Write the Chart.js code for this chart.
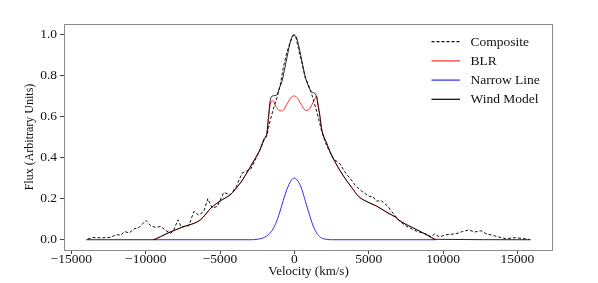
<!DOCTYPE html>
<html>
<head>
<meta charset="utf-8">
<script src="https://cdn.jsdelivr.net/npm/chart.js@4.4.1/dist/chart.umd.min.js"></script>
<style>
  body { margin: 0; background: #fff; }
  canvas { display: block; }
</style>
</head>
<body>
<canvas id="lineChart" width="598" height="283"></canvas>
<script>
const seriesNames = ["Composite", "BLR", "Narrow Line", "Wind Model"];
const xTickValues = [-15000, -10000, -5000, 0, 5000, 10000, 15000];
const yTickValues = [0.0, 0.2, 0.4, 0.6, 0.8, 1.0];

// Composite (observed) profile
const compVel = [-13900, -13560, -13000, -12330, -12000, -11670, -11440, -11110, -10780, -10440,
  -9990, -9660, -9320, -8990, -8650, -8320, -8100, -7830, -7600, -7100,
  -6760, -6430, -6090, -5820, -5530, -5190, -4750, -4300, -3900, -3520,
  -3200, -2960, -2630, -2300, -1960, -1850, -1630, -1400, -1180, -960,
  -740, -510, -290, -70, 90, 270, 500, 720, 940, 1160,
  1500, 1830, 2100, 2400, 2610, 3060, 3390, 3950, 4060, 4510,
  5070, 5290, 5520, 5850, 6290, 6630, 7080, 7520, 8190, 8860,
  9200, 9420, 9750, 10200, 10870, 11310, 11760, 12100, 12540, 12880,
  13550, 14220, 14880, 15330, 15780];
const compFlux = [0.003, 0.011, 0.009, 0.012, 0.025, 0.022, 0.040, 0.033, 0.053, 0.060,
  0.094, 0.068, 0.060, 0.065, 0.045, 0.030, 0.050, 0.097, 0.062, 0.068,
  0.138, 0.120, 0.138, 0.200, 0.154, 0.162, 0.230, 0.219, 0.260, 0.324,
  0.335, 0.340, 0.389, 0.440, 0.500, 0.505, 0.580, 0.640, 0.690, 0.750,
  0.840, 0.910, 0.960, 0.995, 0.990, 0.930, 0.865, 0.790, 0.755, 0.710,
  0.625, 0.530, 0.470, 0.425, 0.395, 0.370, 0.330, 0.280, 0.267, 0.237,
  0.210, 0.210, 0.188, 0.190, 0.162, 0.130, 0.090, 0.066, 0.042, 0.028,
  0.014, 0.028, 0.014, 0.024, 0.029, 0.040, 0.048, 0.037, 0.044, 0.030,
  0.017, 0.005, 0.010, 0.006, 0.002];

// BLR component
const blrVel = [-9500, -9000, -8500, -7500, -6300, -5600, -5000, -4300, -4000, -3500,
  -3000, -2600, -2300, -2050, -1850, -1740, -1600, -1450, -1250, -1050,
  -900, -700, -500, -250, -40, 200, 450, 650, 800, 1000,
  1200, 1400, 1500, 1600, 1720, 1830, 2170, 2390, 2800, 3300,
  3900, 4300, 4800, 5500, 6300, 6800, 7100, 8200, 9000, 9500];
const blrFlux = [0.000, 0.015, 0.033, 0.062, 0.098, 0.155, 0.188, 0.220, 0.243, 0.290,
  0.350, 0.400, 0.440, 0.485, 0.515, 0.590, 0.665, 0.676, 0.650, 0.630,
  0.627, 0.635, 0.660, 0.690, 0.700, 0.690, 0.660, 0.635, 0.629, 0.635,
  0.660, 0.690, 0.700, 0.655, 0.600, 0.540, 0.470, 0.430, 0.370, 0.310,
  0.250, 0.212, 0.188, 0.165, 0.130, 0.110, 0.092, 0.050, 0.020, 0.000];

// Narrow line component
const narrowVel = [-9500, -3000, -2500, -2000, -1750, -1500, -1250, -1000, -750, -500,
  -250, 0, 250, 500, 750, 1000, 1250, 1500, 1750, 2000,
  2500, 9500];
const narrowFlux = [0.000, 0.000, 0.002, 0.012, 0.025, 0.045, 0.080, 0.130, 0.190, 0.245,
  0.285, 0.300, 0.285, 0.245, 0.185, 0.125, 0.070, 0.032, 0.012, 0.004,
  0.000, 0.000];

// Wind model (BLR + narrow)
const windVel = [-14000, -9500, -9000, -8500, -7500, -6300, -5600, -5000, -4300, -4000,
  -3500, -3000, -2600, -2300, -2050, -1850, -1740, -1620, -1450, -1180,
  -1000, -840, -510, -240, -40, 160, 380, 600, 830, 1160,
  1450, 1600, 1720, 1830, 2170, 2390, 2800, 3300, 3900, 4300,
  4800, 5500, 6300, 6800, 7100, 8200, 9000, 9500, 15900];
const windFlux = [0.000, 0.000, 0.015, 0.033, 0.062, 0.098, 0.155, 0.188, 0.220, 0.243,
  0.290, 0.350, 0.400, 0.440, 0.490, 0.520, 0.600, 0.680, 0.700, 0.705,
  0.740, 0.770, 0.883, 0.972, 0.998, 0.980, 0.915, 0.835, 0.770, 0.720,
  0.705, 0.650, 0.600, 0.540, 0.470, 0.430, 0.370, 0.310, 0.250, 0.212,
  0.188, 0.165, 0.130, 0.110, 0.092, 0.050, 0.020, 0.002, 0.000];

const lineColors = ["#111111", "#ff2a2a", "#2a2aff", "#000000"];
const lineDashes = [[3, 2], [], [], []];

function toPoints(xs, ys) {
  return xs.map((x, i) => ({ x: x, y: ys[i] }));
}

const serif = "'Liberation Serif', 'Times New Roman', serif";

// box around the plot area
const frameBox = {
  id: "frameBox",
  afterDraw(chart) {
    const a = chart.chartArea;
    const ctx = chart.ctx;
    ctx.save();
    ctx.strokeStyle = "#8c8c8c";
    ctx.lineWidth = 1;
    ctx.strokeRect(Math.round(a.left) + 0.5, Math.round(a.top) + 0.5,
      Math.round(a.right - a.left) - 1, Math.round(a.bottom - a.top));
    ctx.restore();
  }
};

// matplotlib-style legend in the upper right of the axes
const innerLegend = {
  id: "innerLegend",
  afterDraw(chart) {
    const a = chart.chartArea;
    const ctx = chart.ctx;
    ctx.save();
    ctx.font = "13.5px " + serif;
    ctx.textBaseline = "middle";
    ctx.textAlign = "left";
    for (let i = 0; i < seriesNames.length; i++) {
      const y = a.top + 17.7 + i * 19.2;
      ctx.save();
      ctx.strokeStyle = lineColors[i];
      ctx.lineWidth = 1.2;
      ctx.setLineDash(lineDashes[i]);
      ctx.beginPath();
      ctx.moveTo(a.right - 121.5, y);
      ctx.lineTo(a.right - 93, y);
      ctx.stroke();
      ctx.restore();
      ctx.fillStyle = "#111";
      ctx.fillText(seriesNames[i], a.right - 82.5, y + 0.5);
    }
    ctx.restore();
  }
};

const ctx = document.getElementById("lineChart").getContext("2d");
const lineChart = new Chart(ctx, {
  type: "line",
  data: {
    datasets: [
      {
        label: seriesNames[0],
        data: toPoints(compVel, compFlux),
        borderColor: lineColors[0],
        borderWidth: 1,
        borderDash: lineDashes[0],
        tension: 0,
        order: 1,
      },
      {
        label: seriesNames[1],
        data: toPoints(blrVel, blrFlux),
        borderColor: lineColors[1],
        borderWidth: 1,
        cubicInterpolationMode: "monotone",
        order: 3,
      },
      {
        label: seriesNames[2],
        data: toPoints(narrowVel, narrowFlux),
        borderColor: lineColors[2],
        borderWidth: 1,
        cubicInterpolationMode: "monotone",
        order: 2,
      },
      {
        label: seriesNames[3],
        data: toPoints(windVel, windFlux),
        borderColor: "rgba(0,0,0,0.85)",
        borderWidth: 1,
        cubicInterpolationMode: "monotone",
        order: 0,
      },
    ],
  },
  options: {
    responsive: false,
    animation: false,
    parsing: false,
    elements: { point: { radius: 0 } },
    layout: { padding: { left: 20, top: 24, right: 45, bottom: 4 } },
    plugins: {
      legend: { display: false },
      tooltip: { enabled: false },
    },
    scales: {
      x: {
        type: "linear",
        min: -15495,
        max: 17395,
        afterFit: (scale) => { scale.height = 29; },
        afterBuildTicks: (scale) => {
          scale.ticks = xTickValues.map((v) => ({ value: v }));
        },
        border: { display: false },
        grid: { drawOnChartArea: false, drawTicks: true, tickLength: 4, color: "#444" },
        ticks: {
          color: "#111",
          padding: -3,
          maxRotation: 0,
          font: { family: serif, size: 13.5 },
          callback: (v) => (v < 0 ? "\u2212" + Math.abs(v) : String(v)),
        },
        title: {
          display: true,
          text: "Velocity (km/s)",
          color: "#111",
          font: { family: serif, size: 13 },
          padding: { top: 0, bottom: 0 },
        },
      },
      y: {
        type: "linear",
        min: -0.05,
        max: 1.05,
        afterFit: (scale) => { scale.width = 44; },
        afterBuildTicks: (scale) => {
          scale.ticks = yTickValues.map((v) => ({ value: v }));
        },
        border: { display: false },
        grid: { drawOnChartArea: false, drawTicks: true, tickLength: 4, color: "#444" },
        ticks: {
          color: "#111",
          padding: 3,
          font: { family: serif, size: 13.5 },
          callback: (v) => v.toFixed(1),
        },
        title: {
          display: true,
          text: "Flux (Arbitrary Units)",
          color: "#111",
          font: { family: serif, size: 12 },
          padding: { top: 3, bottom: 0 },
        },
      },
    },
  },
  plugins: [frameBox, innerLegend],
});
</script>
</body>
</html>
